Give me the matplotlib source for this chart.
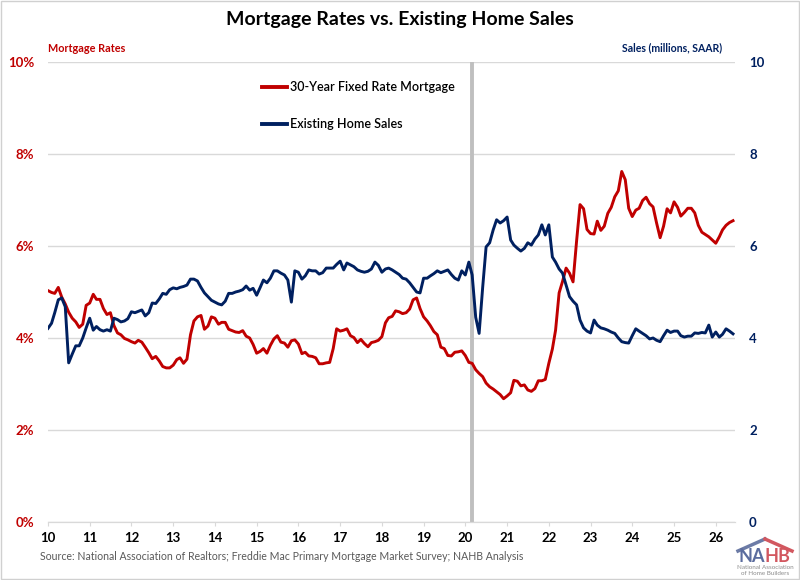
import numpy as np
import pandas as pd
import matplotlib
matplotlib.use("Agg")
import matplotlib.pyplot as plt
import matplotlib.dates as mdates
from matplotlib.lines import Line2D
from matplotlib.patches import Rectangle

plt.rcParams['font.family'] = ['Lato', 'DejaVu Sans']

RED = '#C00000'
NAVY = '#002060'

# 30-year fixed rate mortgage, monthly average (%), Jan 2010 onward
rates_2010 = [5.03, 4.99, 4.97, 5.10, 4.89, 4.74, 4.56, 4.43, 4.35, 4.23, 4.30, 4.71]
rates_2011 = [4.76, 4.95, 4.84, 4.84, 4.64, 4.51, 4.55, 4.27, 4.11, 4.07, 3.99, 3.96]
rates_2012 = [3.92, 3.89, 3.95, 3.91, 3.80, 3.68, 3.55, 3.60, 3.50, 3.38, 3.35, 3.35]
rates_2013 = [3.41, 3.53, 3.57, 3.45, 3.54, 4.07, 4.37, 4.46, 4.49, 4.19, 4.26, 4.46]
rates_2014 = [4.43, 4.30, 4.34, 4.34, 4.19, 4.16, 4.13, 4.12, 4.16, 4.04, 4.00, 3.86]
rates_2015 = [3.67, 3.71, 3.77, 3.67, 3.84, 3.98, 4.05, 3.91, 3.89, 3.80, 3.94, 3.96]
rates_2016 = [3.87, 3.66, 3.69, 3.61, 3.60, 3.57, 3.44, 3.44, 3.46, 3.47, 3.77, 4.20]
rates_2017 = [4.15, 4.17, 4.20, 4.05, 4.01, 3.90, 3.97, 3.88, 3.81, 3.90, 3.92, 3.95]
rates_2018 = [4.03, 4.33, 4.44, 4.47, 4.59, 4.57, 4.53, 4.55, 4.63, 4.83, 4.87, 4.64]
rates_2019 = [4.46, 4.37, 4.27, 4.14, 4.07, 3.80, 3.77, 3.62, 3.61, 3.69, 3.70, 3.72]
rates_2020 = [3.62, 3.47, 3.45, 3.31, 3.23, 3.16, 3.02, 2.94, 2.89, 2.83, 2.77, 2.68]
rates_2021 = [2.74, 2.81, 3.08, 3.06, 2.96, 2.98, 2.87, 2.84, 2.90, 3.07, 3.07, 3.10]
rates_2022 = [3.45, 3.76, 4.17, 4.98, 5.23, 5.52, 5.41, 5.22, 6.11, 6.90, 6.81, 6.36]
rates_2023 = [6.27, 6.26, 6.54, 6.34, 6.43, 6.71, 6.84, 7.07, 7.20, 7.62, 7.44, 6.82]
rates_2024 = [6.64, 6.78, 6.82, 6.99, 7.06, 6.92, 6.85, 6.50, 6.18, 6.43, 6.81, 6.72]
rates_2025 = [6.96, 6.84, 6.65, 6.73, 6.82, 6.82, 6.72, 6.45, 6.30, 6.25, 6.20, 6.13]
rates_2026 = [6.06, 6.20, 6.35, 6.45, 6.51, 6.55]

# existing home sales, SAAR (millions)
sales_2010 = [4.21, 4.32, 4.55, 4.83, 4.87, 4.68, 3.46, 3.65, 3.83, 3.83, 4.00, 4.22]
sales_2011 = [4.43, 4.17, 4.25, 4.18, 4.15, 4.18, 4.15, 4.43, 4.40, 4.35, 4.37, 4.42]
sales_2012 = [4.57, 4.55, 4.58, 4.61, 4.48, 4.55, 4.76, 4.75, 4.85, 4.97, 4.95, 5.05]
sales_2013 = [5.09, 5.07, 5.10, 5.12, 5.15, 5.28, 5.28, 5.24, 5.10, 4.98, 4.90, 4.82]
sales_2014 = [4.78, 4.74, 4.72, 4.80, 4.97, 4.97, 5.00, 5.02, 5.05, 5.13, 5.04, 5.08]
sales_2015 = [4.93, 5.10, 5.26, 5.20, 5.30, 5.46, 5.46, 5.41, 5.37, 5.26, 4.78, 5.46]
sales_2016 = [5.43, 5.28, 5.35, 5.48, 5.46, 5.46, 5.39, 5.42, 5.52, 5.52, 5.52, 5.60]
sales_2017 = [5.67, 5.48, 5.63, 5.59, 5.55, 5.48, 5.45, 5.43, 5.45, 5.50, 5.65, 5.58]
sales_2018 = [5.43, 5.50, 5.52, 5.48, 5.43, 5.38, 5.30, 5.28, 5.20, 5.10, 5.00, 4.98]
sales_2019 = [5.30, 5.30, 5.35, 5.40, 5.46, 5.42, 5.45, 5.48, 5.38, 5.30, 5.26, 5.46]
sales_2020 = [5.37, 5.65, 5.37, 4.45, 4.10, 5.10, 5.98, 6.07, 6.35, 6.57, 6.50, 6.55]
sales_2021 = [6.63, 6.13, 6.02, 5.95, 5.89, 5.95, 6.07, 6.02, 6.15, 6.24, 6.46, 6.24]
sales_2022 = [6.46, 5.76, 5.65, 5.50, 5.41, 5.15, 4.90, 4.80, 4.72, 4.39, 4.22, 4.15]
sales_2023 = [4.11, 4.39, 4.28, 4.22, 4.20, 4.17, 4.13, 4.10, 4.00, 3.92, 3.90, 3.89]
sales_2024 = [4.05, 4.20, 4.15, 4.10, 4.05, 3.98, 4.00, 3.95, 3.92, 4.05, 4.17, 4.12]
sales_2025 = [4.15, 4.15, 4.05, 4.02, 4.04, 4.04, 4.11, 4.10, 4.12, 4.11, 4.28, 4.02]
sales_2026 = [4.13, 4.02, 4.08, 4.20, 4.15, 4.09]

rates = np.concatenate([rates_2010, rates_2011, rates_2012, rates_2013, rates_2014,
                        rates_2015, rates_2016, rates_2017, rates_2018, rates_2019,
                        rates_2020, rates_2021, rates_2022, rates_2023, rates_2024,
                        rates_2025, rates_2026])
sales = np.concatenate([sales_2010, sales_2011, sales_2012, sales_2013, sales_2014,
                        sales_2015, sales_2016, sales_2017, sales_2018, sales_2019,
                        sales_2020, sales_2021, sales_2022, sales_2023, sales_2024,
                        sales_2025, sales_2026])
months = pd.date_range("2010-01-01", periods=len(rates), freq="MS")

fig = plt.figure(figsize=(8, 5.8), dpi=100)
ax = fig.add_axes([0.06, 0.10, 0.859, 0.7931])
ax2 = ax.twinx()

# covid marker
ax.axvline(pd.Timestamp("2020-03-01"), color='#BFBFBF', lw=2.8, zorder=1)

ax.plot(months, rates, color=RED, lw=2.1, zorder=3)
ax2.plot(months, sales, color=NAVY, lw=2.1, zorder=3)

ax.set_ylim(0, 10)
ax2.set_ylim(0, 10)
ax.set_xlim(pd.Timestamp("2010-01-01"), pd.Timestamp("2026-06-20"))

ax.set_yticks(np.arange(0, 11, 2))
ax.set_yticklabels([f"{v}%" for v in range(0, 11, 2)])
ax2.set_yticks(np.arange(0, 11, 2))
ax.grid(axis='y', color='#D9D9D9', lw=1)
ax.set_axisbelow(True)

ax.xaxis.set_major_locator(mdates.YearLocator())
ax.xaxis.set_major_formatter(mdates.DateFormatter('%y'))

for a in (ax, ax2):
    for s in ('top', 'left', 'right'):
        a.spines[s].set_visible(False)
    a.spines['bottom'].set_color('#D9D9D9')

ax.tick_params(axis='y', length=0, pad=10, labelcolor=RED, labelsize=9.5)
ax2.tick_params(axis='y', length=0, pad=10, labelcolor=NAVY, labelsize=9.5)
ax.tick_params(axis='x', length=3, color='#D9D9D9', pad=4, labelsize=9.5)
for lbl in ax.get_yticklabels() + ax2.get_yticklabels() + ax.get_xticklabels():
    lbl.set_fontweight('bold')

handles = [Line2D([], [], color=RED, lw=2.8), Line2D([], [], color=NAVY, lw=2.8)]
leg = ax2.legend(handles, ['30-Year Fixed Rate Mortgage', 'Existing Home Sales'],
                 loc='upper left', bbox_to_anchor=(0.3115, 0.958), frameon=False,
                 borderpad=0, borderaxespad=0,
                 fontsize=9, handlelength=2.0, handletextpad=0.2, labelspacing=2.0)
for t in leg.get_texts():
    t.set_fontweight('semibold')

fig.text(0.5, 1 - 20 / 580, 'Mortgage Rates vs. Existing Home Sales', ha='center',
         va='center', fontsize=14, fontweight='bold')
fig.text(48 / 800, 1 - 48 / 580, 'Mortgage Rates', color=RED, fontsize=7.8,
         fontweight='bold', va='center')
fig.text(722 / 800, 1 - 48 / 580, 'Sales (millions, SAAR)', color=NAVY, fontsize=7.6,
         fontweight='bold', va='center', ha='right')
fig.text(40 / 800, 1 - 557 / 580,
         'Source: National Association of Realtors; Freddie Mac Primary Mortgage Market Survey; NAHB Analysis',
         color='#595959', fontsize=7.6, va='center')

# NAHB logo
fig.add_artist(Line2D([738 / 800, 765 / 800], [1 - 551 / 580, 1 - 539 / 580],
                      color='#6C7BA6', lw=2.5))
fig.add_artist(Line2D([765 / 800, 792 / 800], [1 - 539 / 580, 1 - 551 / 580],
                      color='#D2575F', lw=2.5))
fig.text(765 / 800, 1 - 557 / 580, 'NA', color='#5B6C9E', fontsize=13,
         fontweight='bold', ha='right', va='center')
fig.text(765 / 800, 1 - 557 / 580, 'HB', color='#D2575F', fontsize=13,
         fontweight='bold', ha='left', va='center')
fig.text(765 / 800, 1 - 567.5 / 580, 'National Association', color='#8C8C8C',
         fontsize=4.5, ha='center', va='center')
fig.text(765 / 800, 1 - 573.5 / 580, 'of Home Builders', color='#8C8C8C',
         fontsize=4.5, ha='center', va='center')

fig.add_artist(Rectangle((0.001, 0.001), 0.998, 0.998, transform=fig.transFigure,
                         fill=False, edgecolor='#D0D0D0', lw=1))

fig.savefig('out.png', dpi=100)
